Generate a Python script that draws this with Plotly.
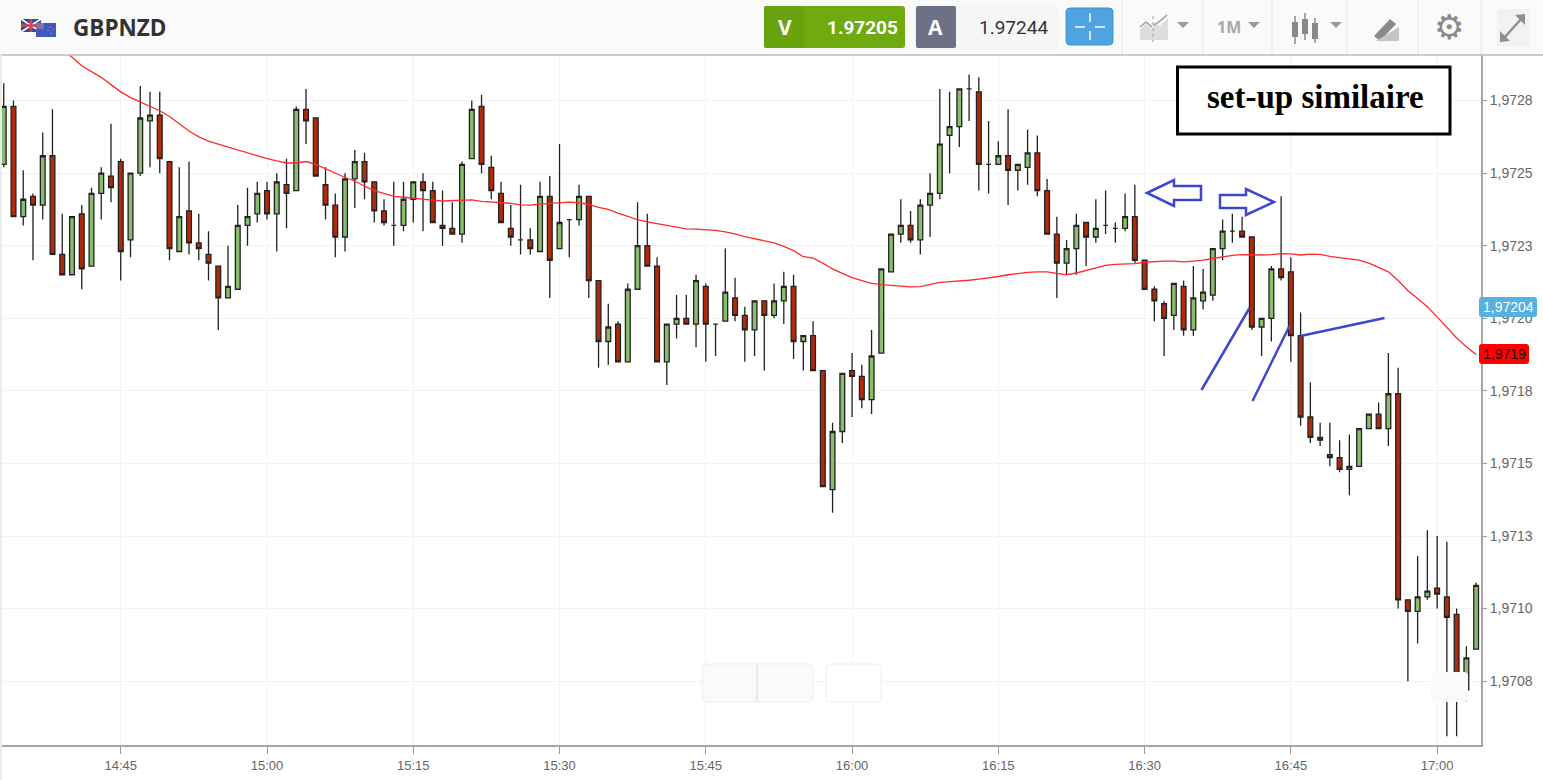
import pandas as pd
import plotly.graph_objects as go

# prices are written in points above 1.97000 (1 point = 0.00001), one candle per minute from 14:33
opens = [253, 273, 235, 242, 239, 256, 222, 215, 236, 218, 243, 249, 254, 227, 250, 268, 270, 254, 223, 237,
         226, 222, 218, 207, 210, 232, 236, 244, 236, 246, 244, 272, 269, 246, 239, 228, 248, 254, 247, 237,
         232, 232, 241, 247, 244, 232, 231, 229, 255, 273, 252, 243, 231, 227, 227, 223, 242, 224, 234, 234,
         242, 213, 192, 198, 185, 210, 225, 218, 185, 198, 200, 198, 211, 198, 199, 207, 201, 196, 206, 201,
         206, 211, 192, 194, 182, 141, 161, 182, 180, 172, 188, 216, 229, 232, 227, 239, 243, 263, 266, 279,
         278, 253, 253, 256, 251, 252, 257, 244, 229, 219, 224, 233, 228, 232, 231, 231, 235, 220, 210, 205,
         201, 211, 196, 206, 208, 224, 230, 230, 228, 197, 200, 217, 216, 194, 166, 159, 153, 152, 148, 149,
         162, 167, 162, 174, 103, 99, 104, 107, 104, 98, 72, 86]
highs = [281, 275, 251, 243, 264, 272, 236, 235, 239, 245, 252, 267, 255, 250, 280, 278, 278, 254, 252, 254,
         236, 230, 218, 225, 239, 245, 247, 247, 250, 255, 273, 279, 269, 252, 243, 250, 258, 257, 247, 241,
         247, 247, 247, 250, 247, 244, 240, 254, 275, 277, 256, 247, 239, 246, 231, 247, 249, 260, 234, 246,
         242, 213, 205, 199, 212, 240, 236, 221, 198, 208, 208, 215, 212, 198, 224, 214, 204, 206, 206, 212,
         216, 215, 194, 199, 182, 164, 181, 188, 184, 196, 217, 229, 241, 237, 241, 250, 279, 278, 279, 284,
         283, 268, 261, 272, 253, 265, 263, 248, 235, 227, 236, 233, 241, 244, 233, 243, 246, 220, 211, 206,
         212, 213, 218, 217, 224, 234, 236, 235, 228, 200, 218, 242, 221, 202, 178, 164, 164, 158, 160, 162,
         167, 171, 188, 183, 103, 118, 127, 125, 123, 100, 87, 109]
lows = [252, 235, 232, 220, 234, 222, 215, 215, 210, 218, 234, 240, 213, 221, 249, 252, 250, 220, 223, 222,
        220, 213, 196, 207, 210, 225, 233, 234, 223, 231, 244, 260, 249, 234, 221, 223, 238, 241, 233, 232,
        225, 230, 233, 230, 233, 225, 229, 226, 255, 250, 241, 233, 225, 222, 222, 223, 207, 224, 221, 232,
        207, 183, 184, 185, 185, 210, 218, 185, 177, 193, 198, 190, 185, 187, 199, 199, 185, 187, 182, 200,
        198, 186, 182, 182, 142, 133, 157, 166, 169, 167, 188, 216, 226, 226, 222, 228, 241, 250, 259, 268,
        244, 243, 253, 239, 244, 246, 242, 229, 207, 215, 215, 218, 226, 229, 226, 230, 219, 210, 199, 187,
        196, 194, 194, 203, 206, 220, 226, 228, 196, 187, 192, 213, 185, 163, 157, 156, 149, 147, 139, 149,
        162, 162, 156, 100, 75, 88, 103, 100, 56, 56, 68, 86]
closes = [273, 235, 241, 239, 256, 222, 215, 235, 217, 243, 250, 245, 223, 250, 269, 270, 255, 224, 235, 226,
          224, 219, 207, 211, 232, 235, 243, 236, 247, 243, 272, 268, 249, 239, 228, 248, 254, 247, 237, 233,
          232, 241, 247, 244, 233, 231, 229, 253, 272, 253, 244, 233, 228, 227, 224, 242, 220, 233, 234, 242,
          213, 192, 197, 185, 210, 225, 218, 185, 198, 200, 198, 213, 198, 198, 209, 201, 196, 206, 201, 206,
          211, 192, 194, 182, 142, 161, 181, 180, 172, 187, 217, 229, 232, 227, 239, 243, 260, 266, 279, 279,
          253, 253, 256, 251, 253, 257, 244, 229, 219, 224, 232, 228, 231, 232, 231, 235, 220, 210, 206, 200,
          212, 196, 207, 209, 224, 230, 230, 228, 197, 200, 217, 214, 194, 166, 159, 158, 152, 148, 149, 162,
          167, 162, 174, 103, 99, 104, 106, 105, 97, 72, 83, 108]
# moving average, one value per minute from 14:39
ma_values = [292, 290, 287, 285, 283, 280.5, 278, 276, 274.5, 273, 271.5, 269.5, 267, 264.5, 262.5, 261, 260, 259,
             257.8, 256.8, 255.8, 255, 254.2, 253.5, 253.5, 254, 253, 251.5, 250, 248.5, 247.3, 245.5, 244, 243, 242,
             241.7, 241.3, 241, 240.7, 240.4, 240.6, 240.8, 240.8, 240.3, 240.1, 240, 239.6, 239.1, 239, 239.3, 239.5,
             239.6, 240, 239.8, 239.2, 238.2, 237.5, 236.2, 235, 234, 233.2, 232.6, 232, 231.3, 230.8, 230.7, 230.5,
             230.3, 229.8, 229.1, 228.1, 227.4, 226.7, 226, 224.8, 223.3, 221.2, 220.7, 219, 217, 215.5, 214, 213, 212,
             211.6, 211.3, 211, 210.8, 210.9, 211.6, 212.4, 212.6, 212.8, 213.1, 213.5, 213.9, 214.4, 215, 215.5,
             215.8, 216, 216, 215.5, 215, 215.6, 216.4, 217.4, 218.2, 218.6, 218.7, 218.8, 219.3, 219.6, 219.7, 219.7,
             219.4, 219.7, 220, 220.6, 221.2, 221.7, 221.9, 221.8, 221.8, 221.9, 222.3, 222.2, 221.8, 222.1, 222,
             221.3, 220.8, 220.4, 220, 219, 217.6, 216, 213, 209.6, 206.8, 204, 200.5, 197, 193.2, 190.2, 187.5]
y_ticks = [1.97075, 1.971, 1.97125, 1.9715, 1.97175, 1.972, 1.97225, 1.9725, 1.97275]
y_labels = ["1,9708", "1,9710", "1,9713", "1,9715", "1,9718", "1,9720", "1,9723", "1,9725", "1,9728"]
bid, ask = "1.97205", "1.97244"
blue_label, red_label = "1,97204", "1,9719"


def price(points):
    return [round(1.97 + p * 0.00001, 6) for p in points]


times = pd.date_range("2018-01-15 14:33", periods=len(opens), freq="min")

W, H = 1543, 780
LEFT, RIGHT, TOP, BOTTOM = 0, 1481, 55, 745


def px(x):
    return (x - LEFT) / (RIGHT - LEFT)


def py(y):
    return (BOTTOM - y) / (BOTTOM - TOP)


shapes = []
notes = []


def rect(x0, y0, x1, y1, fill, line="rgba(0,0,0,0)", lw=1, r=0):
    if r:
        path = (f"M{px(x0 + r)},{py(y0)} L{px(x1 - r)},{py(y0)} Q{px(x1)},{py(y0)} {px(x1)},{py(y0 + r)} "
                f"L{px(x1)},{py(y1 - r)} Q{px(x1)},{py(y1)} {px(x1 - r)},{py(y1)} L{px(x0 + r)},{py(y1)} "
                f"Q{px(x0)},{py(y1)} {px(x0)},{py(y1 - r)} L{px(x0)},{py(y0 + r)} Q{px(x0)},{py(y0)} {px(x0 + r)},{py(y0)} Z")
        shapes.append(dict(type="path", path=path, xref="paper", yref="paper", fillcolor=fill,
                           line=dict(color=line, width=lw)))
    else:
        shapes.append(dict(type="rect", xref="paper", yref="paper", x0=px(x0), x1=px(x1), y0=py(y0), y1=py(y1),
                           fillcolor=fill, line=dict(color=line, width=lw)))


def seg(x0, y0, x1, y1, color, lw=1, dash="solid"):
    shapes.append(dict(type="line", xref="paper", yref="paper", x0=px(x0), x1=px(x1), y0=py(y0), y1=py(y1),
                       line=dict(color=color, width=lw, dash=dash)))


def poly(pts, fill="rgba(0,0,0,0)", line="rgba(0,0,0,0)", lw=1):
    path = "M" + " L".join(f"{px(x)},{py(y)}" for x, y in pts) + " Z"
    shapes.append(dict(type="path", path=path, xref="paper", yref="paper", fillcolor=fill,
                       line=dict(color=line, width=lw)))


def text(x, y, s, size, color, family="Open Sans", bold=False, anchor="center"):
    notes.append(dict(xref="paper", yref="paper", x=px(x), y=py(y), text=f"<b>{s}</b>" if bold else s,
                      showarrow=False, xanchor=anchor, yanchor="middle",
                      font=dict(size=size, color=color, family=family)))


# top toolbar
rect(0, 0, W, 54, "#fafafa")
seg(0, 55, W, 55, "#bdbdbd", 1.5)
rect(0, 55, 2, 780, "#ececec")
for sx in [1122, 1203, 1272, 1347, 1418, 1481]:
    seg(sx, 0, sx, 54, "#e6e6e6")

# flags
rect(21, 19, 41, 32, "#3c4a96")
seg(21, 19, 41, 32, "#ffffff", 1.5)
seg(21, 32, 41, 19, "#ffffff", 1.5)
seg(31, 19, 31, 32, "#d9434e", 2.5)
seg(21, 25.5, 41, 25.5, "#d9434e", 2.5)
rect(36, 23, 56, 37, "#3f5ab8")
rect(36, 23, 44, 29, "#8a6fa8")
seg(50, 27, 50, 28, "#ef6f80", 1.5)
seg(53, 29, 53, 30, "#ef6f80", 1.5)
seg(48, 30, 48, 31, "#ef6f80", 1.5)
seg(51, 33, 51, 34, "#ef6f80", 1.5)
text(71, 27, "GBPNZD", 22.5, "#333333", bold=True, anchor="left")

# bid / ask boxes
rect(764, 6, 905, 48, "#6fab0e", r=3)
rect(764, 6, 804, 48, "#68a20d", r=2)
text(785, 27, "V", 21, "#ffffff", bold=True)
text(862, 27, bid, 19, "#ffffff", family="Roboto", bold=True)
rect(916, 6, 1058, 48, "#f6f6f6", "#eeeeee", r=3)
rect(916, 6, 956, 48, "#6c7187", r=2)
text(936, 27, "A", 21, "#ffffff", bold=True)
text(1013, 27, ask, 19, "#333333", family="Roboto")
rect(1066, 8, 1113, 45, "#4fa3e0", "#3f93d0", r=4)
seg(1090, 13, 1090, 22, "#ffffff", 1.5)
seg(1090, 31, 1090, 40, "#ffffff", 1.5)
seg(1075, 27, 1085, 27, "#ffffff", 1.5)
seg(1095, 27, 1105, 27, "#ffffff", 1.5)

# toolbar icons
poly([(1140, 40), (1140, 29), (1146, 24), (1153, 30), (1153, 40)], fill="#dddddd")
poly([(1153, 40), (1153, 22), (1160, 26), (1168, 18), (1168, 40)], fill="#dddddd")
seg(1140, 27, 1146, 22, "#999999", 1.5)
seg(1146, 22, 1152, 27, "#999999", 1.5)
seg(1154, 25, 1160, 21, "#999999", 1.5)
seg(1160, 21, 1167, 15, "#999999", 1.5)
seg(1153, 16, 1153, 42, "#999999", 1, "dot")
poly([(1177, 22), (1189, 22), (1183, 28)], fill="#999999")
text(1229, 27, "1M", 16, "#a8a8a8", bold=True)
poly([(1248, 22), (1260, 22), (1254, 28)], fill="#999999")
for cx, y0, y1, b0, b1 in [(1295, 16, 44, 22, 37), (1305, 13, 40, 19, 34), (1315, 18, 43, 23, 39)]:
    seg(cx, y0, cx, y1, "#8a8a8a", 1.5)
    rect(cx - 3, b0, cx + 3, b1, "#8a8a8a")
poly([(1330, 22), (1342, 22), (1336, 28)], fill="#999999")
poly([(1374, 36), (1390, 19), (1396, 24), (1380, 41)], fill="#8a8a8a")
poly([(1376, 41), (1399, 41), (1399, 27)], fill="#c4c4c4")
text(1449, 27, "⚙", 34, "#8a8a8a", family="DejaVu Sans")
rect(1497, 9, 1530, 46, "#f2f2f2")
seg(1504, 38, 1522, 18, "#8f8f8f", 2.5)
poly([(1500, 42), (1500, 31), (1510, 41)], fill="#8f8f8f")
poly([(1525, 14), (1525, 25), (1515, 15)], fill="#8f8f8f")

# hand drawn notes on the chart
rect(1177.5, 67, 1450, 134, "#ffffff", "#000000", 3)
text(1315, 97, "set-up similaire", 33, "#000000", family="Liberation Serif", bold=True)
BLUE = "#3d48cc"
poly([(1147, 193), (1174, 180), (1174, 186), (1201, 186), (1201, 200), (1174, 200), (1174, 206)], line=BLUE, lw=2.5)
poly([(1220, 195), (1246, 195), (1246, 189), (1274, 202), (1246, 215), (1246, 208), (1220, 208)], line=BLUE, lw=2.5)
seg(1201.5, 390, 1249.5, 308, BLUE, 2.5)
seg(1252.5, 401, 1290, 325, BLUE, 2.5)
seg(1300.5, 336, 1384.5, 318, BLUE, 2.5)

# zoom buttons floating over the chart
rect(702, 664, 813, 702, "rgba(250,250,250,0.9)", "#eeeeee", r=4)
seg(757, 664, 757, 702, "#d9d9d9")
rect(826, 664, 881, 702, "rgba(255,255,255,0.9)", "#eeeeee", r=4)
rect(1431, 672, 1468, 702, "#fafafa", r=4)

# price labels on the axis
rect(1479, 297, 1537, 317, "#56b0e0", r=3)
text(1508, 307, blue_label, 14, "#ffffff", family="Liberation Sans")
rect(1479, 344, 1529, 364, "#ff0000", r=3)
text(1504, 354, red_label, 14, "#111111", family="Liberation Sans")

fig = go.Figure()
fig.add_trace(go.Candlestick(
    x=times, open=price(opens), high=price(highs), low=price(lows), close=price(closes),
    increasing=dict(fillcolor="#8abc6e", line=dict(color="#222222", width=1.3)),
    decreasing=dict(fillcolor="#b42a08", line=dict(color="#222222", width=1.3)),
    hoverinfo="skip",
))
fig.add_trace(go.Scatter(x=times[6:], y=price(ma_values), mode="lines", line=dict(color="#ff2a2a", width=1.3),
                         hoverinfo="skip"))

fig.update_layout(
    width=W, height=H, margin=dict(l=LEFT, r=W - RIGHT, t=TOP, b=H - BOTTOM), autosize=False,
    paper_bgcolor="#ffffff", plot_bgcolor="#ffffff", showlegend=False,
    font=dict(family="Liberation Sans", color="#666666"),
    shapes=shapes, annotations=notes,
)
fig.update_xaxes(
    type="date", range=["2018-01-15 14:32:37", "2018-01-15 17:04:30"], rangeslider_visible=False,
    tick0="2018-01-15 14:45", dtick=900000, tickformat="%H:%M", ticks="outside", ticklen=7, tickcolor="#999999",
    tickfont=dict(size=13, color="#666666"), showgrid=True, gridcolor="#f2f2f2", gridwidth=1,
    showline=True, linecolor="#a6a6a6", linewidth=2, zeroline=False,
)
fig.update_yaxes(
    side="right", range=[1.970530, 1.972907], tickvals=y_ticks, ticktext=y_labels, ticks="outside", ticklen=4,
    tickcolor="#999999", tickfont=dict(size=14, color="#666666"), showgrid=True, gridcolor="#f2f2f2", gridwidth=1,
    showline=True, linecolor="#a6a6a6", linewidth=2, zeroline=False,
)

fig.write_html("out.html", config={"displayModeBar": False}, post_script="document.body.style.margin='0';")
